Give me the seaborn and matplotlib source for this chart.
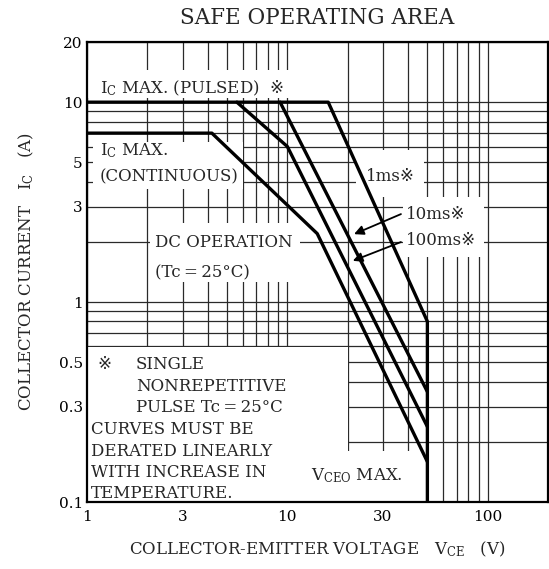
import matplotlib
matplotlib.use('Agg')
import matplotlib.pyplot as plt
import matplotlib.ticker as mticker
from matplotlib.patches import Rectangle
import seaborn as sns
import pandas as pd

# SOA corner points (V_CE in V, I_C in A)
ms1_v = [1, 16, 50, 50]
ms1_i = [10, 10, 0.8, 0.1]
ms10_v = [9.2, 50]
ms10_i = [10, 0.356]
ms100_v = [5.6, 10, 50]
ms100_i = [10, 6.0, 0.238]
dc_v = [1, 4.2, 14.1, 50]
dc_i = [7, 7, 2.2, 0.159]

x_ticks = [1, 3, 10, 30, 100]
x_labels = ['1', '3', '10', '30', '100']
y_ticks = [0.1, 0.3, 0.5, 1, 3, 5, 10, 20]
y_labels = ['0.1', '0.3', '0.5', '1', '3', '5', '10', '20']

rows = []
for name, vs, cs in [('1ms', ms1_v, ms1_i), ('10ms', ms10_v, ms10_i),
                     ('100ms', ms100_v, ms100_i), ('DC', dc_v, dc_i)]:
    for k, (v, c) in enumerate(zip(vs, cs)):
        rows.append({'curve': name, 'order': k, 'v': v, 'i': c})
df = pd.DataFrame(rows)

sns.set_theme(style='white')
plt.rcParams['font.family'] = ['DejaVu Serif', 'DejaVu Sans', 'Noto Sans CJK JP']
plt.rcParams['mathtext.fontset'] = 'dejavuserif'

W, H = 549, 569
fs = 12
fig = plt.figure(figsize=(W / 100, H / 100), dpi=100)
ax = fig.add_axes([87 / W, 67 / H, 461 / W, 460 / H])
ax.set_xscale('log')
ax.set_yscale('log')

# white areas behind the labels, where the grid is broken
masks = [(1, 12, 10.5, 14.5), (1.07, 6.0, 3.7, 6.3), (2.06, 11.6, 1.26, 2.5),
         (21.9, 47.9, 3.35, 5.75), (37.6, 95.5, 1.68, 3.35),
         (1, 20, 0.1, 0.596), (11.6, 47.9, 0.1, 0.18)]
for x0, x1, y0, y1 in masks:
    ax.add_patch(Rectangle((x0, y0), x1 - x0, y1 - y0, facecolor='white',
                           edgecolor='none', zorder=1))

sns.lineplot(data=df, x='v', y='i', units='curve', estimator=None, sort=False,
             color='black', lw=2.4, ax=ax, zorder=3, legend=False)

ax.set_xlim(1, 200)
ax.set_ylim(0.1, 20)
ax.xaxis.set_major_locator(mticker.FixedLocator(x_ticks))
ax.xaxis.set_major_formatter(mticker.FixedFormatter(x_labels))
ax.yaxis.set_major_locator(mticker.FixedLocator(y_ticks))
ax.yaxis.set_major_formatter(mticker.FixedFormatter(y_labels))
for axis in (ax.xaxis, ax.yaxis):
    axis.set_minor_locator(mticker.LogLocator(base=10, subs=range(1, 10), numticks=30))
    axis.set_minor_formatter(mticker.NullFormatter())
ax.set_axisbelow(True)
ax.grid(which='both', color='#2a2a2a', lw=0.9)
ax.tick_params(which='both', length=0, labelsize=11, colors='black')
ax.tick_params(axis='x', pad=6)
ax.tick_params(axis='y', pad=3)
for s in ax.spines.values():
    s.set_color('black')
    s.set_linewidth(1.6)
    s.set_zorder(4)

ax.set_title('SAFE OPERATING AREA', fontsize=15.5, pad=13)
ax.set_xlabel(r'COLLECTOR-EMITTER VOLTAGE   V$_{\mathrm{CE}}$   (V)', fontsize=fs, labelpad=11)
ax.set_ylabel(r'COLLECTOR CURRENT   I$_{\mathrm{C}}$   (A)', fontsize=fs, labelpad=16)


def note(px, py, s, **kw):
    fig.text(px / W, 1 - py / H, s, fontsize=fs, va='baseline', ha='left', **kw)


note(100, 93, r'I$_{\mathrm{C}}$ MAX. (PULSED)')
note(269, 93, '※')
note(100, 155, r'I$_{\mathrm{C}}$ MAX.')
note(100, 181, '(CONTINUOUS)')
note(155, 247, 'DC OPERATION')
note(155, 277, '(Tc\u2009=\u200925°C)')
note(366, 181, '1ms※')
note(406, 219, '10ms※')
note(406, 245, '100ms※')
note(97, 369, '※')
note(136, 369, 'SINGLE')
note(136, 391, 'NONREPETITIVE')
note(136, 412, 'PULSE Tc\u2009=\u200925°C')
note(91, 434, 'CURVES MUST BE')
note(91, 456, 'DERATED LINEARLY')
note(91, 477, 'WITH INCREASE IN')
note(91, 498, 'TEMPERATURE.')
note(311, 480, r'V$_{\mathrm{CEO}}$ MAX.')

arrow = dict(arrowstyle='-|>', color='black', lw=1.3, mutation_scale=14)
ax.annotate('', xy=(20.9, 2.16), xytext=(38.0, 2.79), arrowprops=arrow, zorder=5)
ax.annotate('', xy=(20.6, 1.59), xytext=(38.0, 2.02), arrowprops=arrow, zorder=5)

fig.savefig('out.png', dpi=100)
